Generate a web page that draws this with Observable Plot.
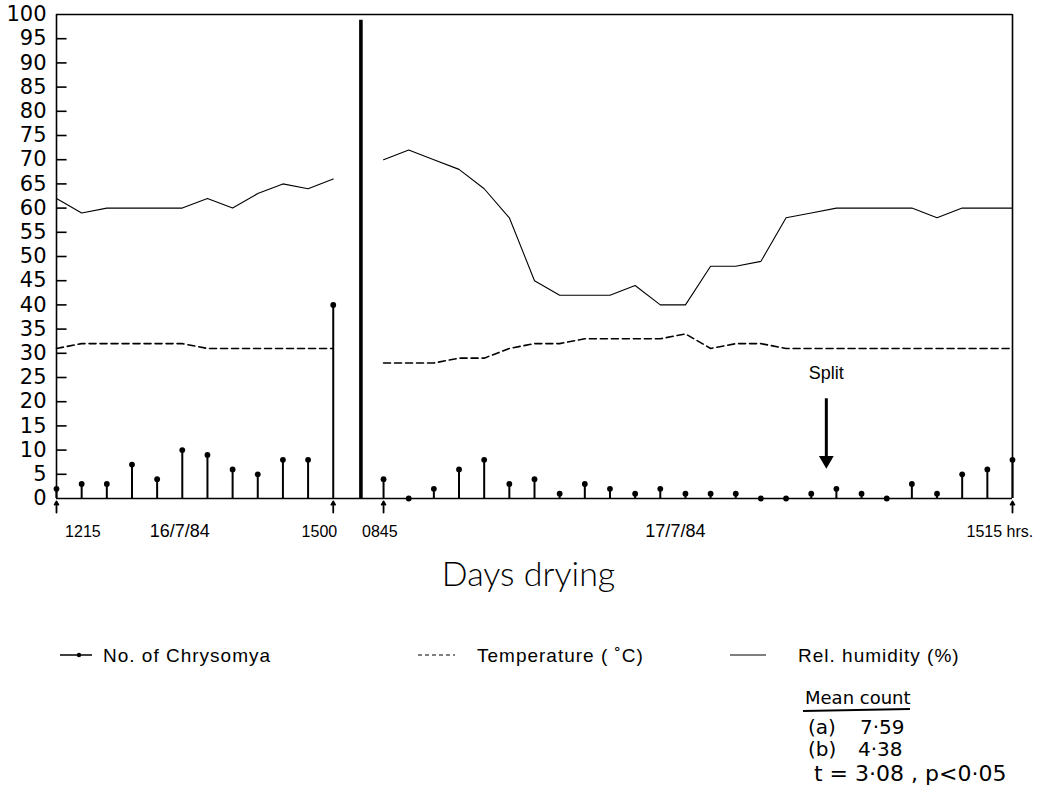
<!DOCTYPE html>
<html>
<head>
<meta charset="utf-8">
<script src="https://cdn.jsdelivr.net/npm/d3@7"></script>
<script src="https://cdn.jsdelivr.net/npm/@observablehq/plot@0.6"></script>
<style>
  html, body { margin: 0; padding: 0; background: #fff; }
  #chart { width: 1039px; height: 792px; }
</style>
</head>
<body>
<div id="chart"></div>
<script>
// ---- Data ----
// Day 1 (16/7/84), 1215 → 1500, and Day 2 (17/7/84), 0845 → 1515
const day1Count = [2, 3, 3, 7, 4, 10, 9, 6, 5, 8, 8, 40];
const day2Count = [4, 0, 2, 6, 8, 3, 4, 1, 3, 2, 1, 2, 1, 1, 1, 0, 0, 1, 2, 1, 0, 3, 1, 5, 6, 8];
const day1Temp = [31, 32, 32, 32, 32, 32, 31, 31, 31, 31, 31, 31];
const day2Temp = [28, 28, 28, 29, 29, 31, 32, 32, 33, 33, 33, 33, 34, 31, 32, 32, 31, 31, 31, 31, 31, 31, 31, 31, 31, 31];
const day1RH = [62, 59, 60, 60, 60, 60, 62, 60, 63, 65, 64, 66];
const day2RH = [70, 72, 70, 68, 64, 58, 45, 42, 42, 42, 44, 40, 40, 48, 48, 49, 58, 59, 60, 60, 60, 60, 58, 60, 60, 60];

const yTicks = d3.range(0, 101, 5);
const timeLabels = ["1215", "1500", "0845", "1515 hrs."];
const dateLabels = ["16/7/84", "17/7/84"];
const legendLabels = ["No. of Chrysomya", "Temperature (\u00A0\u02DAC)", "Rel. humidity (%)"];
const statLines = ["Mean count", "(a)", "7\u00B759", "(b)", "4\u00B738", "t = 3\u00B708 , p<0\u00B705"];

// ---- Build tables (sample index = position along the drying record) ----
const day2Start = day1Count.length + 1; // one empty slot for the overnight break
const rows = [];
day1Count.forEach((v, i) => rows.push({i, day: "16/7/84", count: v, temp: day1Temp[i], rh: day1RH[i]}));
day2Count.forEach((v, j) => rows.push({i: day2Start + j, day: "17/7/84", count: v, temp: day2Temp[j], rh: day2RH[j]}));
const lastIndex = rows[rows.length - 1].i;
const arrowIdx = [0, day1Count.length - 1, day2Start, lastIndex];
const breakIdx = day1Count.length + 0.1;

const W = 1039, H = 792;
const M = {top: 14, left: 56, right: 27, bottom: 294};
const unitY = (H - M.top - M.bottom) / 100; // px per y unit
const yBelow = px => -px / unitY;           // offset below the baseline, in y units

const font = "Liberation Sans, Arial, sans-serif";

const plot = Plot.plot({
  width: W,
  height: H,
  marginTop: M.top,
  marginLeft: M.left,
  marginRight: M.right,
  marginBottom: M.bottom,
  style: {fontFamily: font, background: "#fff", color: "#000", overflow: "visible"},
  x: {domain: [0, lastIndex], axis: null},
  y: {domain: [0, 100], axis: null},
  marks: [
    // frame
    Plot.ruleY([100], {x1: 0, x2: lastIndex, strokeWidth: 1.6}),
    Plot.ruleX([lastIndex], {y1: 0, y2: 100, strokeWidth: 1.6}),
    Plot.ruleX([0], {y1: 0, y2: 100, strokeWidth: 1.6}),
    Plot.ruleY([0], {x1: 0, x2: lastIndex, strokeWidth: 1.6}),
    // inward y ticks
    Plot.ruleY(yTicks.filter(d => d > 0 && d < 100), {x1: 0, x2: 0.42, strokeWidth: 1.6}),
    Plot.axisY({ticks: yTicks, tickSize: 0, tickPadding: 10, fontSize: 21, fontFamily: "DejaVu Sans", label: null}),
    // overnight break
    Plot.ruleX([breakIdx], {y1: 0, y2: 98.8, strokeWidth: 3.6}),
    // relative humidity
    Plot.line(rows, {x: "i", y: "rh", z: "day", strokeWidth: 1.1}),
    // temperature
    Plot.line(rows, {x: "i", y: "temp", z: "day", strokeWidth: 1.6, strokeDasharray: "7,4"}),
    // Chrysomya counts
    Plot.ruleX(rows, {x: "i", y1: 0, y2: "count", strokeWidth: 2}),
    Plot.dot(rows, {x: "i", y: "count", r: 2.9, fill: "#000", stroke: "none"}),
    // start/end arrows below the axis
    Plot.arrow(arrowIdx, {x: d => d, y1: yBelow(14), y2: yBelow(3), strokeWidth: 1.8, headLength: 6}),
    // x tick labels
    Plot.axisX({ticks: [1.05, 10.45, 12.85, 37.5], tickFormat: (d, k) => timeLabels[k], tickSize: 0, tickPadding: 27, fontSize: 16, fontFamily: font, label: null, letterSpacing: 1.8}),
    Plot.axisX({ticks: [4.9, 24.6], tickFormat: (d, k) => dateLabels[k], tickSize: 0, tickPadding: 26, fontSize: 18, fontFamily: font, label: null, letterSpacing: 1.4}),
    // x axis title
    Plot.text(["Days drying"], {frameAnchor: "bottom", dx: -6, dy: 87, fontSize: 34, fontFamily: "Lato", fontWeight: 300, letterSpacing: 1.5, text: d => d}),
    // Split annotation
    Plot.text(["Split"], {x: 30.6, y: 25.8, fontSize: 18, text: d => d}),
    Plot.ruleX([30.6], {y1: 20.6, y2: 8.5, strokeWidth: 3}),
    Plot.dot([30.6], {x: d => d, y: 7.9, symbol: "triangle", rotate: 180, r: 5.5, fill: "#000", stroke: "none"})
  ]
});

const svg = d3.select(plot);
// legend (below the x axis title)
const lg = svg.append("g").attr("font-family", font).attr("font-size", 19).attr("text-anchor", "start").attr("letter-spacing", 1);
const ly = 655;
lg.append("line").attr("x1", 60).attr("x2", 92).attr("y1", ly).attr("y2", ly).attr("stroke", "#000").attr("stroke-width", 1.5);
lg.append("circle").attr("cx", 79).attr("cy", ly).attr("r", 2.2).attr("fill", "#000");
lg.append("text").attr("x", 103).attr("y", ly).attr("dy", "0.35em").text(legendLabels[0]);
lg.append("line").attr("x1", 418).attr("x2", 455).attr("y1", ly).attr("y2", ly).attr("stroke", "#000").attr("stroke-width", 1.2).attr("stroke-dasharray", "4,3");
lg.append("text").attr("x", 477).attr("y", ly).attr("dy", "0.35em").text(legendLabels[1]);
lg.append("line").attr("x1", 730).attr("x2", 766).attr("y1", ly).attr("y2", ly).attr("stroke", "#000").attr("stroke-width", 1.2);
lg.append("text").attr("x", 798).attr("y", ly).attr("dy", "0.35em").text(legendLabels[2]);

// statistics note
const st = svg.append("g").attr("font-family", "DejaVu Sans").attr("font-size", 20).attr("text-anchor", "start");
st.append("text").attr("x", 805).attr("y", 698).attr("dy", "0.35em").attr("font-size", 18).text(statLines[0]);
st.append("line").attr("x1", 803).attr("x2", 910).attr("y1", 711).attr("y2", 709).attr("stroke", "#000").attr("stroke-width", 2);
st.append("text").attr("x", 808).attr("y", 727).attr("dy", "0.35em").text(statLines[1]);
st.append("text").attr("x", 860).attr("y", 727).attr("dy", "0.35em").text(statLines[2]);
st.append("text").attr("x", 808).attr("y", 749).attr("dy", "0.35em").text(statLines[3]);
st.append("text").attr("x", 858).attr("y", 749).attr("dy", "0.35em").text(statLines[4]);
st.append("text").attr("x", 814).attr("y", 773).attr("dy", "0.35em").attr("font-size", 22).text(statLines[5]);

document.getElementById("chart").appendChild(plot);
</script>
</body>
</html>
